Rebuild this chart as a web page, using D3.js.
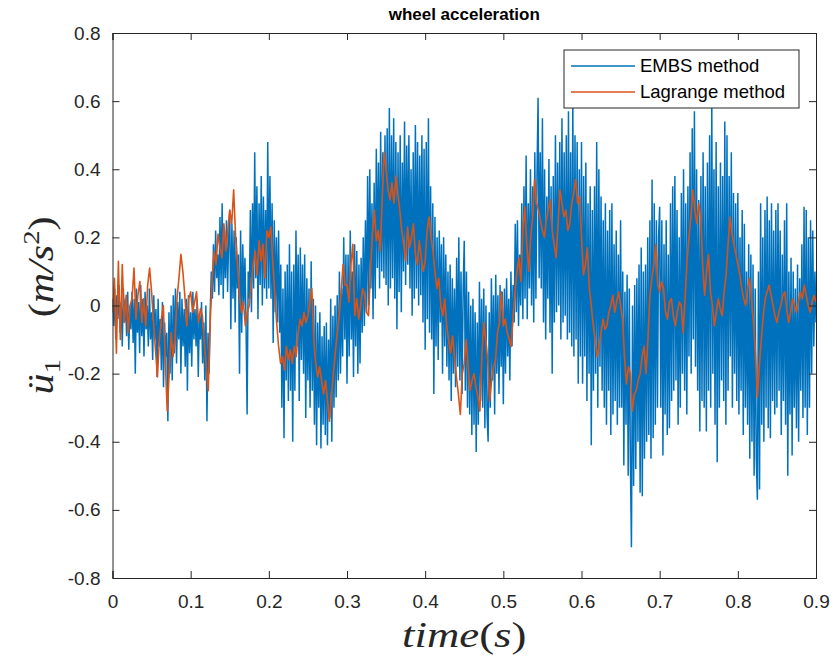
<!DOCTYPE html>
<html>
<head>
<meta charset="utf-8">
<script src="https://cdn.jsdelivr.net/npm/d3@7"></script>
<style>
  body { margin: 0; background: #fff; }
  svg { display: block; }
  .tick text { font-family: "Liberation Sans", Arial, sans-serif; fill: #262626; }
</style>
</head>
<body>
<div class="chart"></div>
<script>
// ===== data =====

const xTicks = [0, 0.1, 0.2, 0.3, 0.4, 0.5, 0.6, 0.7, 0.8, 0.9]
const xTickLabels = ['0', '0.1', '0.2', '0.3', '0.4', '0.5', '0.6', '0.7', '0.8', '0.9']
const yTicks = [-0.8, -0.6, -0.4, -0.2, 0, 0.2, 0.4, 0.6, 0.8]
const yTickLabels = ['-0.8', '-0.6', '-0.4', '-0.2', '0', '0.2', '0.4', '0.6', '0.8']

const seriesNames = ['EMBS method', 'Lagrange method']

// EMBS samples, 0 .. 0.9 s, evenly spaced (36 per 0.05 s)
const embs = [
  0.02,-0.06,0.05,-0.10,0.03,-0.04,0.06,-0.08,0.01,-0.12,0.05,-0.05,
  0.02,-0.09,0.04,-0.13,0.00,-0.07,0.04,-0.11,0.02,-0.20,0.05,-0.08,
  0.01,-0.14,0.06,-0.09,0.02,-0.15,0.04,-0.07,0.00,-0.12,0.05,-0.10,
  -0.02,-0.16,0.03,-0.10,-0.01,-0.21,0.02,-0.12,-0.04,-0.19,0.01,-0.24,
  -0.05,-0.15,-0.08,-0.34,-0.02,-0.20,0.00,-0.22,0.03,-0.14,0.05,-0.17,
  0.01,-0.10,0.04,-0.20,0.02,-0.12,-0.01,-0.18,0.02,-0.25,0.03,-0.14,
  -0.02,-0.18,0.04,-0.10,-0.01,-0.12,0.02,-0.21,-0.03,-0.10,0.01,-0.17,
  -0.05,-0.22,0.00,-0.34,-0.08,-0.20,-0.02,0.10,0.02,0.18,0.04,0.22,
  0.08,0.15,0.03,0.26,0.06,0.30,0.02,0.22,0.08,0.25,0.04,0.20,
  0.28,-0.07,0.24,0.02,0.22,-0.05,0.20,0.05,0.15,-0.20,0.22,-0.08,
  0.18,0.00,0.14,-0.05,-0.32,0.10,0.02,0.28,-0.02,0.30,0.05,0.45,
  0.08,0.35,-0.04,0.30,0.06,0.38,0.00,0.32,0.05,0.28,0.02,0.48,
  0.05,0.38,0.02,0.30,-0.11,0.25,-0.02,0.20,-0.05,0.22,-0.08,0.12,
  -0.30,0.05,-0.39,0.10,-0.22,0.12,-0.28,0.18,-0.25,0.10,-0.40,0.12,
  -0.25,0.22,-0.12,0.15,-0.28,0.17,-0.16,0.12,-0.20,0.15,-0.33,0.08,
  -0.22,0.05,-0.30,0.13,-0.25,0.02,-0.35,0.00,-0.41,-0.05,-0.30,-0.02,
  -0.42,-0.09,-0.35,-0.06,-0.38,-0.05,-0.41,-0.10,-0.33,0.02,-0.40,-0.03,
  -0.30,0.00,-0.27,0.03,-0.22,0.10,-0.20,0.05,-0.15,0.20,-0.10,0.15,
  -0.23,0.15,-0.15,0.22,-0.10,0.10,-0.21,0.18,-0.12,0.16,-0.20,0.12,
  -0.17,0.14,-0.08,0.20,-0.06,0.25,-0.02,0.38,0.00,0.40,0.05,0.30,
  -0.04,0.36,0.02,0.46,0.11,0.42,0.05,0.51,0.10,0.45,0.08,0.50,
  0.06,0.52,0.00,0.58,0.05,0.50,0.08,0.55,0.02,0.48,-0.07,0.45,
  0.04,0.50,-0.02,0.42,0.10,0.54,0.06,0.47,0.12,0.50,0.05,0.40,
  -0.03,0.45,0.02,0.53,0.05,0.48,0.00,0.44,0.03,0.50,-0.05,0.46,
  -0.13,0.48,-0.04,0.55,-0.08,0.35,-0.10,0.30,-0.26,0.26,-0.12,0.20,
  -0.16,0.22,-0.05,0.18,-0.20,0.20,-0.12,0.15,-0.18,0.10,-0.22,0.12,
  -0.28,0.08,-0.20,0.05,-0.24,0.14,-0.18,0.20,-0.22,0.10,-0.26,0.05,
  0.19,-0.25,0.10,-0.30,0.04,-0.32,0.00,-0.38,0.02,-0.35,-0.02,-0.43,
  -0.05,-0.35,0.07,-0.28,0.02,-0.30,0.05,-0.36,0.00,-0.32,-0.40,-0.02,
  -0.30,0.08,-0.22,0.03,-0.32,0.09,-0.20,0.03,-0.26,0.06,-0.18,0.04,
  -0.29,0.05,-0.20,0.08,-0.15,0.02,-0.22,0.10,-0.12,0.06,-0.05,0.24,
  -0.02,0.25,-0.06,0.15,0.00,0.30,-0.04,0.35,0.02,0.44,-0.04,0.30,
  0.05,0.40,0.00,0.35,-0.05,0.45,0.02,0.38,0.61,0.08,0.45,0.05,
  0.55,-0.05,0.40,-0.10,0.32,0.02,0.43,-0.08,0.35,-0.20,0.38,-0.05,
  0.50,-0.02,0.42,0.00,0.48,-0.10,0.55,-0.05,0.45,-0.03,0.50,-0.10,
  0.57,-0.08,0.45,-0.12,0.60,-0.15,0.50,-0.10,0.48,-0.23,0.40,-0.15,
  0.48,-0.23,0.38,-0.15,0.42,-0.28,0.30,-0.20,0.35,-0.41,0.28,-0.25,
  0.35,-0.20,0.48,-0.30,0.40,-0.18,0.32,-0.25,0.25,-0.30,0.30,-0.35,
  0.22,-0.25,0.28,-0.38,0.30,-0.32,0.18,-0.28,0.22,-0.35,0.15,-0.30,
  0.25,-0.30,0.10,-0.47,0.04,-0.35,0.09,-0.50,0.05,-0.45,-0.71,0.00,
  -0.53,0.06,-0.48,0.08,-0.40,0.12,-0.55,0.17,-0.56,0.10,-0.45,0.12,
  -0.40,0.20,-0.38,0.25,-0.45,0.37,-0.39,0.30,-0.35,0.25,-0.30,0.20,
  0.29,-0.30,0.25,-0.44,0.18,-0.32,0.25,-0.38,0.15,-0.36,0.30,-0.28,
  0.35,-0.25,0.38,-0.22,0.28,-0.35,0.20,-0.30,0.33,-0.20,0.40,-0.25,
  0.30,-0.32,0.35,-0.15,0.45,-0.20,0.52,-0.10,0.57,-0.18,0.40,-0.25,
  0.31,-0.37,0.38,-0.28,0.45,-0.30,0.35,-0.37,0.42,-0.25,0.50,-0.30,
  0.60,-0.20,0.40,-0.35,0.48,-0.46,0.35,-0.30,0.42,-0.22,0.38,-0.28,
  0.54,-0.35,0.50,-0.25,0.38,-0.15,0.45,-0.30,0.33,-0.20,0.30,-0.28,
  0.33,-0.32,0.20,-0.25,0.28,-0.38,0.24,-0.30,0.10,-0.35,0.18,-0.45,
  0.15,-0.40,0.12,-0.50,0.05,-0.45,-0.57,0.10,-0.54,0.30,-0.35,0.20,
  -0.40,0.28,-0.30,0.32,-0.36,0.25,-0.39,0.30,-0.28,0.22,-0.32,0.28,
  -0.30,0.30,-0.25,0.22,-0.38,0.15,-0.28,0.25,-0.35,0.30,-0.50,0.10,
  -0.32,0.14,-0.44,0.10,-0.30,0.05,-0.36,0.12,-0.40,0.08,-0.25,0.18,
  -0.33,0.29,-0.30,0.28,-0.38,0.20,-0.30,0.25,-0.20,0.22,-0.12,0.10,
  -0.05
]

// Lagrange samples, 0 .. 0.9 s, evenly spaced (20 per 0.05 s)
const lagrange = [
  -0.02,0.08,-0.14,0.13,-0.10,0.12,-0.05,0.03,-0.08,0.00,0.02,0.11,-0.04,0.03,0.07,-0.05,0.02,-0.06,0.06,0.11,
  0.04,-0.05,-0.13,-0.21,-0.10,-0.04,0.00,-0.16,-0.31,-0.20,-0.08,-0.15,-0.10,0.02,0.08,0.15,0.10,0.03,-0.06,0.02,
  0.04,-0.02,0.01,0.04,-0.05,-0.01,-0.03,-0.11,-0.18,-0.25,-0.05,0.08,0.16,0.12,0.21,0.17,0.14,0.24,0.16,0.22,
  0.28,0.24,0.34,0.20,0.12,0.03,-0.02,0.01,-0.06,-0.02,0.00,0.06,0.12,0.16,0.09,0.19,0.13,0.18,0.08,0.22,
  0.20,0.23,0.13,0.04,-0.05,-0.12,-0.17,-0.15,-0.19,-0.12,-0.16,-0.13,-0.17,-0.12,-0.15,-0.08,-0.04,-0.06,-0.02,-0.05,
  -0.03,0.01,0.05,-0.10,-0.17,-0.21,-0.18,-0.22,-0.26,-0.22,-0.28,-0.34,-0.27,-0.20,-0.14,-0.08,-0.03,0.04,0.12,0.06,
  0.06,0.01,0.12,0.18,-0.03,0.02,-0.04,0.00,0.05,0.03,-0.02,-0.03,0.10,0.21,0.28,0.19,0.22,0.16,0.31,0.45,
  0.40,0.34,0.31,0.36,0.30,0.38,0.33,0.28,0.22,0.18,0.13,0.23,0.17,0.20,0.24,0.15,0.12,0.19,0.14,0.10,
  0.13,0.22,0.26,0.20,0.16,0.10,0.05,0.08,0.00,-0.03,0.02,-0.06,-0.10,-0.14,-0.09,-0.15,-0.21,-0.26,-0.32,-0.20,
  -0.17,-0.10,-0.18,-0.25,-0.22,-0.20,-0.24,-0.27,-0.31,-0.15,-0.05,-0.10,-0.16,-0.28,-0.22,-0.18,-0.16,-0.08,-0.05,0.04,
  -0.06,-0.04,-0.08,-0.10,-0.12,-0.03,0.04,0.10,0.14,0.07,0.22,0.29,0.18,0.10,0.20,0.26,0.37,0.30,0.28,0.25,
  0.22,0.20,0.25,0.28,0.31,0.22,0.18,0.14,0.24,0.34,0.30,0.26,0.28,0.22,0.24,0.30,0.33,0.37,0.30,0.32,
  0.20,0.09,0.12,0.17,0.05,0.00,-0.06,-0.10,-0.15,-0.12,-0.08,-0.04,-0.07,-0.06,-0.02,0.00,0.03,-0.02,0.01,0.04,
  0.00,-0.04,-0.15,-0.23,-0.18,-0.20,-0.31,-0.26,-0.25,-0.22,-0.20,-0.15,-0.12,-0.20,-0.10,0.03,0.08,0.12,0.18,0.06,
  0.04,0.07,0.05,-0.02,-0.04,0.01,0.02,-0.03,-0.06,-0.02,0.01,0.00,-0.08,0.02,0.13,0.20,0.26,0.34,0.28,0.24,
  0.30,0.26,0.12,0.03,0.10,0.15,0.04,0.00,-0.06,-0.02,0.02,-0.01,-0.03,0.04,0.09,0.18,0.26,0.21,0.18,0.15,
  0.12,0.09,0.05,0.02,0.00,0.05,0.08,0.02,-0.05,-0.14,-0.27,-0.18,-0.10,-0.03,0.02,0.04,0.06,0.03,0.00,-0.03,
  -0.05,-0.02,0.00,0.03,0.04,-0.01,-0.05,-0.02,0.02,0.00,-0.02,0.01,0.04,0.02,0.06,0.03,0.00,-0.02,0.01,0.03,
  0.01
]

const tEnd = 0.9

// ===== layout =====

const W = 835
const H = 664
const margin = { top: 33, right: 19, bottom: 86, left: 112.5 }
const width = W - margin.left - margin.right
const height = H - margin.top - margin.bottom

const blue = '#0072BD'
const orange = '#D95319'
const axisColor = '#262626'

const svg = d3.select('.chart')
  .append('svg')
    .attr('width', W)
    .attr('height', H)

const g = svg.append('g')
  .attr('transform', `translate(${margin.left}, ${margin.top})`)

const xScale = d3.scaleLinear()
  .domain([0, 0.9])
  .range([0, width])

const yScale = d3.scaleLinear()
  .domain([-0.8, 0.8])
  .range([height, 0])

// sample times: series are evenly sampled over 0 .. tEnd
const toPoints = vals => vals.map((v, i) => [tEnd * i / (vals.length - 1), v])

const line = d3.line()
  .x(d => xScale(d[0]))
  .y(d => yScale(d[1]))

g.append('clipPath')
  .attr('id', 'plot-clip')
  .append('rect')
    .attr('width', width)
    .attr('height', height)

const plot = g.append('g').attr('clip-path', 'url(#plot-clip)')

plot.append('path')
  .datum(toPoints(embs))
  .attr('d', line)
  .style('fill', 'none')
  .style('stroke', blue)
  .style('stroke-width', 1.5)

plot.append('path')
  .datum(toPoints(lagrange))
  .attr('d', line)
  .style('fill', 'none')
  .style('stroke', orange)
  .style('stroke-width', 1.6)
  .style('stroke-linejoin', 'round')

// axes, ticks pointing inward like matlab
const fmtX = d => xTickLabels[xTicks.indexOf(d)]
const fmtY = d => yTickLabels[yTicks.indexOf(d)]

const xAxis = d3.axisBottom(xScale).tickValues(xTicks).tickFormat(fmtX).tickSize(-7).tickPadding(17)
const yAxis = d3.axisLeft(yScale).tickValues(yTicks).tickFormat(fmtY).tickSize(-7).tickPadding(12)

g.append('g')
  .attr('transform', `translate(0, ${height})`)
  .call(xAxis)
  .call(s => s.selectAll('text').style('font-size', '19px'))

g.append('g')
  .call(yAxis)
  .call(s => s.selectAll('text').style('font-size', '19px'))

g.append('g')
  .call(d3.axisTop(xScale).tickValues(xTicks).tickFormat('').tickSize(-7))

g.append('g')
  .attr('transform', `translate(${width}, 0)`)
  .call(d3.axisRight(yScale).tickValues(yTicks).tickFormat('').tickSize(-7))

g.selectAll('.domain, .tick line').style('stroke', axisColor)

// title
svg.append('text')
  .attr('x', margin.left + width / 2)
  .attr('y', 20)
  .attr('text-anchor', 'middle')
  .style('font-family', '"Liberation Sans", Arial, sans-serif')
  .style('font-weight', 'bold')
  .style('font-size', '17px')
  .style('fill', '#000')
  .text('wheel acceleration')

// axis labels (latex style), widened a bit to look like computer modern
const mathFont = '"Liberation Serif", "Times New Roman", serif'

const xl = svg.append('text')
  .attr('transform', `translate(${margin.left + width / 2}, 647) scale(1.28, 1)`)
  .attr('text-anchor', 'middle')
  .style('font-family', mathFont)
  .style('font-size', '35px')
  .style('fill', axisColor)
xl.append('tspan').style('font-style', 'italic').text('time')
xl.append('tspan').text('(')
xl.append('tspan').style('font-style', 'italic').text('s')
xl.append('tspan').text(')')

const yl = svg.append('text')
  .attr('transform', `translate(53, ${margin.top + height / 2}) rotate(-90) scale(1.2, 1)`)
  .attr('text-anchor', 'middle')
  .style('font-family', mathFont)
  .style('font-size', '35px')
  .style('fill', axisColor)
yl.append('tspan').style('font-style', 'italic').text('ü')
yl.append('tspan').attr('dy', 7).style('font-size', '24px').text('1')
yl.append('tspan').attr('dy', -7).text('\u2003(')
yl.append('tspan').style('font-style', 'italic').text('m/s')
yl.append('tspan').attr('dy', -14).style('font-size', '24px').text('2')
yl.append('tspan').attr('dy', 14).text(')')

// legend
const legend = svg.append('g').attr('transform', 'translate(564, 50)')

legend.append('rect')
  .attr('width', 235)
  .attr('height', 58)
  .style('fill', '#fff')
  .style('stroke', axisColor)
  .style('stroke-width', 1)

const legendColors = [blue, orange]
seriesNames.forEach((name, i) => {
  const yy = 16 + i * 26
  legend.append('line')
    .attr('x1', 7).attr('x2', 71)
    .attr('y1', yy).attr('y2', yy)
    .style('stroke', legendColors[i])
    .style('stroke-width', 1.5)
  legend.append('text')
    .attr('x', 76)
    .attr('y', yy)
    .attr('dy', '0.35em')
    .style('font-family', '"Liberation Sans", Arial, sans-serif')
    .style('font-size', '18.5px')
    .style('fill', '#000')
    .text(name)
})
</script>
</body>
</html>
